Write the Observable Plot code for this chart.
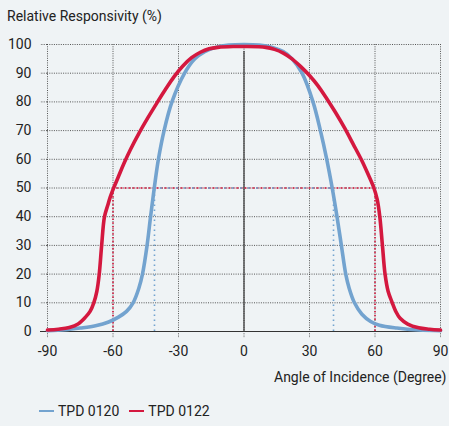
<!DOCTYPE html>
<html>
<head>
<meta charset="utf-8">
<script src="https://cdn.jsdelivr.net/npm/d3@7"></script>
<script src="https://cdn.jsdelivr.net/npm/@observablehq/plot@0.6"></script>
<style>
  html, body { margin: 0; padding: 0; background: #eff3f5; }
  body { width: 449px; height: 426px; overflow: hidden; font-family: Roboto, "Noto Sans", sans-serif; color: #222; }
  #title { height: 32px; font-size: 14px; padding-left: 7px; line-height: 32px; }
  #legend { display: flex; align-items: center; font-size: 14px; padding-left: 39px; margin-top: 6px; }
  .sw { display: inline-block; width: 15px; height: 2px; margin-right: 4px; }
  .item { display: flex; align-items: center; margin-right: 10px; }
</style>
</head>
<body>
<div id="title">Relative Responsivity (%)</div>
<div id="chart"></div>
<div id="legend"></div>
<script>
const seriesNames = ["TPD 0120", "TPD 0122"];
const seriesColors = ["#73a3cf", "#d4183f"];

const blueAngle = [-90, -82, -75, -68, -62, -57.5, -53.8, -50.8, -48.2, -46.5, -44.4, -42.8, -41.1, -39.2, -36.6, -33, -27.2, -22.5, -18, -13, -7, 0, 7, 13, 18, 22, 26.6, 31.6, 35, 37.9, 40.4, 42.6, 44.6, 46.6, 48.2, 50.6, 54, 58, 62, 70, 80, 90];
const blueValue = [0.3, 0.6, 1.2, 2, 3.3, 5, 7, 10, 15, 20, 30, 40, 50, 60, 70, 80, 90, 95, 97.5, 99, 99.8, 100, 99.8, 99, 97.5, 95, 90, 80, 70, 60, 50, 40, 30, 20, 15, 10, 6, 3.5, 2.2, 1.2, 0.5, 0.3];

const redAngle = [-90, -85, -80, -76, -72.6, -70.5, -68.8, -67.4, -66.3, -65.2, -63.9, -62.4, -61.2, -59.7, -57.5, -55, -52, -48, -44, -40, -36, -32, -28, -24, -20, -16, -12, -5, 0, 10, 14, 18, 22, 26, 30, 34, 38, 42, 46, 50, 54, 57, 59.5, 61, 62.2, 63.4, 64.6, 66, 67.9, 69.5, 71.5, 75, 80, 85, 90];
const redValue = [0.5, 0.8, 1.4, 2.6, 5, 7, 10, 14, 20, 30, 40, 44, 47, 50, 54, 58.5, 63.4, 69.2, 74.5, 79.5, 84.3, 88.8, 92.5, 95.4, 97.3, 98.5, 99, 99.3, 99.3, 99, 98.3, 97, 95, 92.3, 89.2, 85.5, 81, 76.2, 71, 65.3, 59.5, 54.5, 50, 46, 40, 30, 20, 14, 10, 7, 4.6, 2.6, 1.3, 0.8, 0.5];

const halfAngles = [41, 60]; // 50% responsivity angles
const halfLevel = 50;

const xTicks = [-90, -60, -30, 0, 30, 60, 90];
const yTicks = [0, 10, 20, 30, 40, 50, 60, 70, 80, 90, 100];

const blue = blueAngle.map((a, i) => ({angle: a, value: blueValue[i]}));
const red = redAngle.map((a, i) => ({angle: a, value: redValue[i]}));

const gridColor = "#444";
const dots = "1,1.3";

const plot = Plot.plot({
  width: 449,
  height: 365,
  marginLeft: 47,
  marginRight: 9,
  marginTop: 12,
  marginBottom: 66,
  style: {background: "transparent", fontFamily: "Roboto, 'Noto Sans', sans-serif", fontSize: "14px", color: "#222"},
  x: {domain: [-90, 90]},
  y: {domain: [0, 100]},
  marks: [
    Plot.gridX(xTicks, {stroke: gridColor, strokeOpacity: 0.9, strokeDasharray: dots}),
    Plot.gridY(yTicks.slice(1), {stroke: gridColor, strokeOpacity: 0.9, strokeDasharray: dots}),
    Plot.axisY(yTicks, {tickSize: 7, tickPadding: 9, stroke: gridColor, strokeOpacity: 0.9, strokeDasharray: dots, label: null, fill: "#222", tickFormat: d => String(d)}),
    Plot.axisX(xTicks, {tickSize: 7, tickPadding: 8, stroke: gridColor, strokeOpacity: 0.9, strokeDasharray: dots, fill: "#222", tickFormat: d => String(d),
      label: "Angle of Incidence (Degree)", labelAnchor: "right", labelArrow: "none", labelOffset: 50}),
    Plot.ruleY([0], {stroke: "#333", strokeWidth: 1.2, x1: -90, x2: 90, insetLeft: -7}),
    Plot.ruleX([0], {stroke: "#333", strokeWidth: 1.2, y1: 0, y2: 100, insetBottom: -7}),
    // 50% reference lines
    Plot.ruleY([halfLevel], {x1: -halfAngles[1], x2: halfAngles[1], stroke: seriesColors[1], strokeWidth: 1.6, strokeDasharray: "2,2"}),
    Plot.ruleY([halfLevel], {x1: -halfAngles[0], x2: halfAngles[0], stroke: seriesColors[0], strokeWidth: 1.6, strokeDasharray: "2,6", strokeDashoffset: 2}),
    Plot.ruleX([-halfAngles[1], halfAngles[1]], {y1: 0, y2: halfLevel, stroke: seriesColors[1], strokeWidth: 1.6, strokeDasharray: "1.5,2.2"}),
    Plot.ruleX([-halfAngles[0], halfAngles[0]], {y1: 0, y2: halfLevel, stroke: seriesColors[0], strokeWidth: 1.6, strokeDasharray: "1.5,3.5"}),
    Plot.line(blue, {x: "angle", y: "value", stroke: seriesColors[0], strokeWidth: 3.6, curve: "catmull-rom"}),
    Plot.line(red, {x: "angle", y: "value", stroke: seriesColors[1], strokeWidth: 3.6, curve: "catmull-rom"})
  ]
});
document.getElementById("chart").appendChild(plot);

const legend = document.getElementById("legend");
seriesNames.forEach((n, i) => {
  const it = document.createElement("span");
  it.className = "item";
  const sw = document.createElement("span");
  sw.className = "sw";
  sw.style.background = seriesColors[i];
  it.appendChild(sw);
  it.appendChild(document.createTextNode(n));
  legend.appendChild(it);
});
</script>
</body>
</html>
